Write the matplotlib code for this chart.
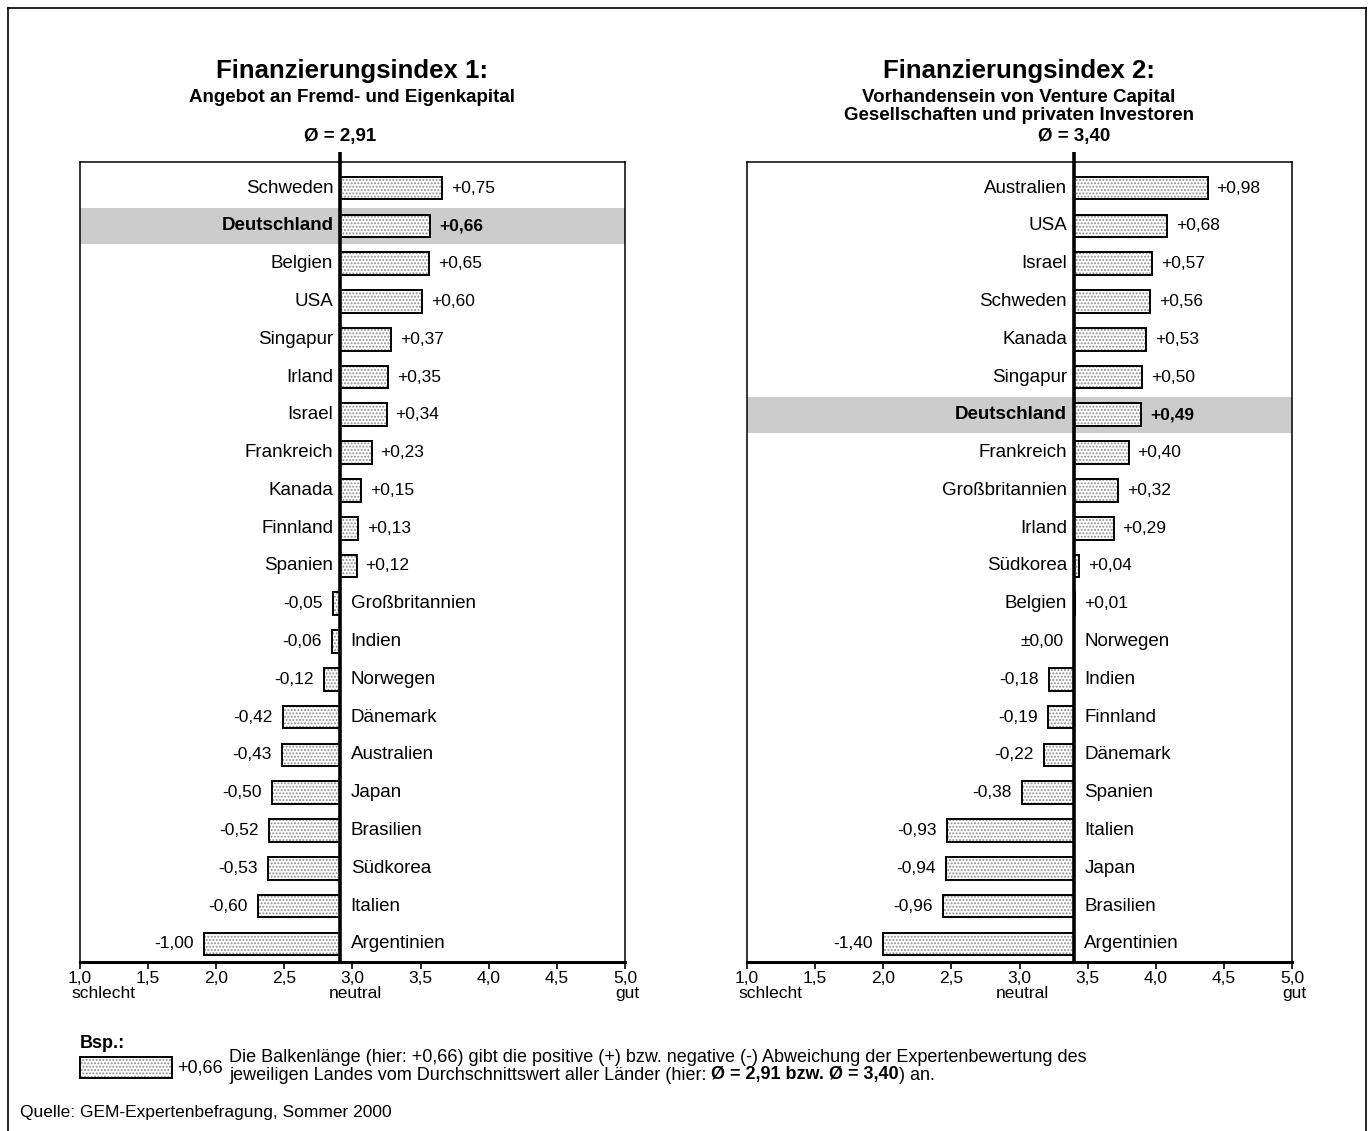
import matplotlib.pyplot as plt
from matplotlib.patches import Rectangle
from matplotlib.lines import Line2D

plt.rcParams['font.family'] = ['Liberation Sans', 'DejaVu Sans']
plt.rcParams['hatch.linewidth'] = 0.9

# Finanzierungsindex 1: Angebot an Fremd- und Eigenkapital
idx1_mean = 2.91
idx1_countries = ['Schweden', 'Deutschland', 'Belgien', 'USA', 'Singapur', 'Irland',
                  'Israel', 'Frankreich', 'Kanada', 'Finnland', 'Spanien',
                  'Großbritannien', 'Indien', 'Norwegen', 'Dänemark', 'Australien',
                  'Japan', 'Brasilien', 'Südkorea', 'Italien', 'Argentinien']
idx1_values = [0.75, 0.66, 0.65, 0.60, 0.37, 0.35, 0.34, 0.23, 0.15, 0.13, 0.12,
               -0.05, -0.06, -0.12, -0.42, -0.43, -0.50, -0.52, -0.53, -0.60, -1.00]

# Finanzierungsindex 2: Venture Capital / private Investoren
idx2_mean = 3.40
idx2_countries = ['Australien', 'USA', 'Israel', 'Schweden', 'Kanada', 'Singapur',
                  'Deutschland', 'Frankreich', 'Großbritannien', 'Irland', 'Südkorea',
                  'Belgien', 'Norwegen', 'Indien', 'Finnland', 'Dänemark', 'Spanien',
                  'Italien', 'Japan', 'Brasilien', 'Argentinien']
idx2_values = [0.98, 0.68, 0.57, 0.56, 0.53, 0.50, 0.49, 0.40, 0.32, 0.29, 0.04,
               0.01, 0.00, -0.18, -0.19, -0.22, -0.38, -0.93, -0.94, -0.96, -1.40]

xticks = [1.0, 1.5, 2.0, 2.5, 3.0, 3.5, 4.0, 4.5, 5.0]
highlight = 'Deutschland'

W, H = 1372, 1131
fig = plt.figure(figsize=(W / 100, H / 100), dpi=100)


def px(x, y):
    return x / W, 1 - y / H


def fmt(v):
    if v == 0:
        return '±0,00'
    return ('%+.2f' % v).replace('.', ',')


def panel(left, countries, values, mean):
    ax = fig.add_axes([left / W, 1 - 962 / H, 545 / W, 800 / H])
    n = len(countries)
    ys = list(range(n))
    ax.set_xlim(1.0, 5.0)
    ax.set_ylim(n - 0.52, -0.69)

    for y, c in zip(ys, countries):
        if c == highlight:
            ax.axhspan(y - 0.48, y + 0.48, color='#cccccc', lw=0, zorder=0)

    # dotted fill and black outline as two layers
    ax.barh(ys, values, left=mean, height=0.6, color='white', edgecolor='#8a8a8a',
            hatch='.....', lw=0, zorder=2)
    ax.barh(ys, values, left=mean, height=0.6, fill=False, edgecolor='black',
            lw=1.4, zorder=3)

    ax.plot([mean, mean], [n - 0.52, -0.95], color='black', lw=2.6,
            clip_on=False, zorder=4, solid_capstyle='butt')

    for y, c, v in zip(ys, countries, values):
        weight = 'bold' if c == highlight else 'normal'
        if v > 0:
            ax.annotate(fmt(v), (mean + v, y), xytext=(6.5, 0), textcoords='offset points',
                        ha='left', va='center', fontsize=12.5, fontweight=weight)
            ax.annotate(c, (mean, y), xytext=(-5, 0), textcoords='offset points',
                        ha='right', va='center', fontsize=13.5, fontweight=weight)
        else:
            ax.annotate(fmt(v), (mean + v, y), xytext=(-7.5, 0), textcoords='offset points',
                        ha='right', va='center', fontsize=12.5, fontweight=weight)
            ax.annotate(c, (mean, y), xytext=(7.5, 0), textcoords='offset points',
                        ha='left', va='center', fontsize=13.5, fontweight=weight)

    ax.set_xticks(xticks)
    ax.set_xticklabels([('%.1f' % t).replace('.', ',') for t in xticks], fontsize=12.5)
    ax.set_yticks([])
    ax.tick_params(axis='x', direction='out', length=5, width=1.2, pad=1.5)
    for s in ['left', 'right', 'top']:
        ax.spines[s].set_linewidth(1.1)
    ax.spines['bottom'].set_linewidth(2.2)

    for x, s in [(1.17, 'schlecht'), (3.02, 'neutral'), (5.02, 'gut')]:
        ax.text(x, -0.03, s, transform=ax.get_xaxis_transform(), ha='center',
                va='top', fontsize=12.5)

    ax.text(mean, -1.37, 'Ø = ' + ('%.2f' % mean).replace('.', ','), ha='center',
            va='center', fontsize=13.5, fontweight='bold')
    return ax


panel(80, idx1_countries, idx1_values, idx1_mean)
panel(747, idx2_countries, idx2_values, idx2_mean)

title_kw = dict(ha='center', va='center', fontsize=18.5, fontweight='bold')
sub_kw = dict(ha='center', va='center', fontsize=13.5, fontweight='bold')
fig.text(*px(352, 71), 'Finanzierungsindex 1:', **title_kw)
fig.text(*px(352, 97), 'Angebot an Fremd- und Eigenkapital', **sub_kw)
fig.text(*px(1019, 71), 'Finanzierungsindex 2:', **title_kw)
fig.text(*px(1019, 97), 'Vorhandensein von Venture Capital', **sub_kw)
fig.text(*px(1019, 116), 'Gesellschaften und privaten Investoren', **sub_kw)

# example box below the charts
fig.text(*px(80, 1043), 'Bsp.:', ha='left', va='center', fontsize=13, fontweight='bold')
x0, y0 = px(80, 1078)
bw, bh = 92 / W, 21 / H
fig.patches.append(Rectangle((x0, y0), bw, bh, transform=fig.transFigure,
                             facecolor='white', edgecolor='#8a8a8a', hatch='.....', lw=0))
fig.patches.append(Rectangle((x0, y0), bw, bh, transform=fig.transFigure,
                             fill=False, edgecolor='black', lw=1.4))
fig.text(*px(177, 1068), '+0,66', ha='left', va='center', fontsize=13)

fig.text(*px(229, 1057), 'Die Balkenlänge (hier: +0,66) gibt die positive (+) bzw. negative (-) '
         'Abweichung der Expertenbewertung des', ha='left', va='center', fontsize=13)
t1 = fig.text(*px(229, 1075), 'jeweiligen Landes vom Durchschnittswert aller Länder (hier: ',
              ha='left', va='center', fontsize=13)
t2 = plt.annotate('Ø = 2,91 bzw. Ø = 3,40', xy=(1, 0), xycoords=t1, ha='left', va='bottom',
                  fontsize=13, fontweight='bold', annotation_clip=False)
plt.annotate(') an.', xy=(1, 0), xycoords=t2, ha='left', va='bottom', fontsize=13,
             annotation_clip=False)

fig.text(*px(20, 1113), 'Quelle: GEM-Expertenbefragung, Sommer 2000', ha='left',
         va='center', fontsize=12.5)

# outer frame, open at the bottom
for xs, ys in [([8, 8], [1131, 8]), ([8, 1366], [8, 8]), ([1366, 1366], [8, 1131])]:
    fig.add_artist(Line2D([x / W for x in xs], [1 - y / H for y in ys],
                          transform=fig.transFigure, color='black', lw=1.2))

fig.savefig('out.png', dpi=100)
